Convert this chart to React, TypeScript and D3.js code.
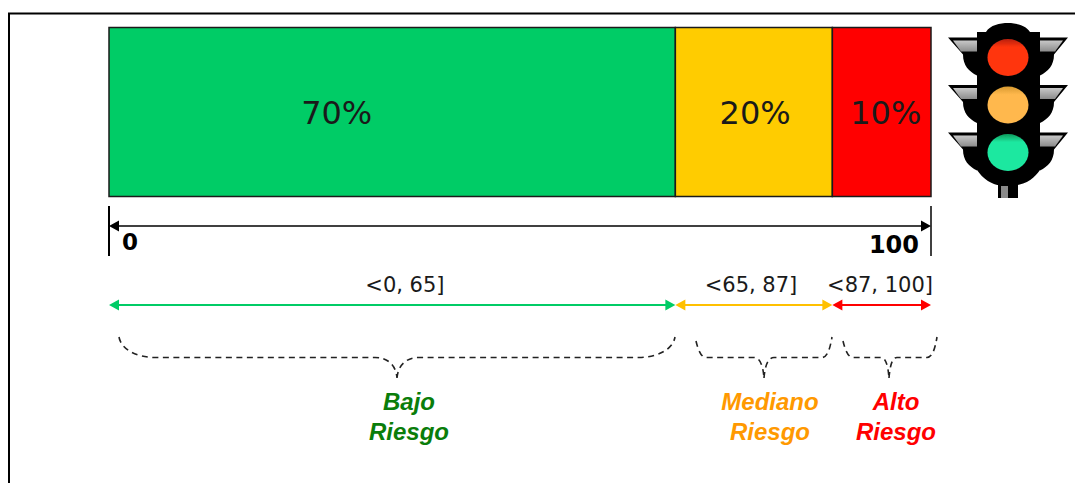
import * as d3 from "d3";

// Chart values
const segmentEdges = [0, 68.9, 88, 100];
const shareLabels = ["70%", "20%", "10%"];
const shareCenters = [27.7, 78.6, 94.5];
const segmentColors = ["#00cc66", "#ffcc00", "#ff0000"];
const rangeLabels = ["<0, 65]", "<65, 87]", "<87, 100]"];
const rangeCenters = [36, 78.1, 93.8];
const riskLines = [["Bajo", "Riesgo"], ["Mediano", "Riesgo"], ["Alto", "Riesgo"]];
const riskColors = ["#0a7d0a", "#ff9900", "#ff0000"];
const arrowColors = ["#00cc66", "#ffc000", "#ff0000"];
const axisEnds = [0, 100];

const width = 1075;
const height = 483;
const x = d3.scaleLinear().domain([0, 100]).range([109, 931]);

const sans = "Verdana, 'DejaVu Sans', sans-serif";
const helv = "'Liberation Sans', Arial, sans-serif";

function shaft(x0: number, x1: number, y: number, head: number) {
  return `M${x0 + head - 1},${y}L${x1 - head + 1},${y}`;
}

function heads(x0: number, x1: number, y: number, head: number, half: number) {
  return (
    `M${x0},${y}L${x0 + head},${y - half}L${x0 + head},${y + half}Z` +
    `M${x1},${y}L${x1 - head},${y - half}L${x1 - head},${y + half}Z`
  );
}

// curly brace opening upwards, tip pointing down
function brace(x0: number, x1: number, mid: number, r: number, b: number, yTopL: number, yTopR: number) {
  const yb = 357.5;
  const tip = 378;
  return (
    `M${x0},${yTopL}C${x0 + 2},${yb - 8} ${x0 + r * 0.5},${yb} ${x0 + r},${yb}` +
    `L${mid - b},${yb}C${mid - b * 0.4},${yb} ${mid - 1},${yb + 8} ${mid},${tip}` +
    `M${mid},${tip}C${mid + 1},${yb + 8} ${mid + b * 0.4},${yb} ${mid + b},${yb}` +
    `L${x1 - r},${yb}C${x1 - r * 0.5},${yb} ${x1 - 2},${yb - 8} ${x1},${yTopR}`
  );
}

const braces = [
  { x0: 119, x1: 675, mid: 397, r: 36, b: 22, l: 337, rr: 337 },
  { x0: 696, x1: 832, mid: 764, r: 10, b: 10, l: 341, rr: 337 },
  { x0: 843, x1: 937, mid: 889, r: 10, b: 8, l: 341, rr: 337 },
];
const riskCenters = [409, 770, 896];

function TrafficLight() {
  const lights = [
    { id: "lr", cy: 57.5, fill: "#ff3510", rim: "#b8200a" },
    { id: "ly", cy: 105, fill: "#ffb84d", rim: "#d89a30" },
    { id: "lg", cy: 152.5, fill: "#1fe8a0", rim: "#0c9a5c" },
  ];
  return (
    <g filter="url(#soft)">
      <defs>
        <filter id="soft" x="-5%" y="-5%" width="110%" height="110%">
          <feGaussianBlur stdDeviation={0.5} />
        </filter>
        <linearGradient id="band" x1="0" x2="0" y1="0" y2="1">
          <stop offset="0" stopColor="#c8c8c8" />
          <stop offset="1" stopColor="#8c8c8c" />
        </linearGradient>
        {lights.map((l) => (
          <linearGradient key={l.id} id={l.id} x1="0" x2="0" y1="0" y2="1">
            <stop offset="0" stopColor={l.rim} />
            <stop offset="0.22" stopColor={l.fill} />
            <stop offset="1" stopColor={l.fill} />
          </linearGradient>
        ))}
      </defs>
      {lights.map((l) => (
        <g key={l.id}>
          <path
            d={`M948,${l.cy - 20}L977,${l.cy - 20}L977,${l.cy + 18}C969,${l.cy + 14} 963,${l.cy + 8} 963,${l.cy - 3}L948,${l.cy - 20}Z`}
            fill="#050505"
          />
          <path
            d={`M1068,${l.cy - 20}L1040,${l.cy - 20}L1040,${l.cy + 18}C1048,${l.cy + 14} 1054,${l.cy + 8} 1054,${l.cy - 3}L1068,${l.cy - 20}Z`}
            fill="#050505"
          />
          <path d={`M953,${l.cy - 17}L977,${l.cy - 17}L977,${l.cy - 6}L961,${l.cy - 6}Z`} fill="url(#band)" />
          <path d={`M1063,${l.cy - 17}L1040,${l.cy - 17}L1040,${l.cy - 6}L1055,${l.cy - 6}Z`} fill="url(#band)" />
        </g>
      ))}
      <rect x={998} y={180} width={20} height={18} fill="#050505" />
      <rect x={1001} y={186} width={7} height={12} fill="#8a8a8a" />
      <path
        d="M977,32L986,32C990,25 1000,23 1008,23C1016,23 1026,25 1030,32L1040,32L1040,170C1034,178 1026,186 1008,186C990,186 983,178 977,170Z"
        fill="#050505"
      />
      {lights.map((l) => (
        <ellipse key={l.id} cx={1008} cy={l.cy} rx={20.5} ry={18.5} fill={`url(#${l.id})`} />
      ))}
    </g>
  );
}

export default function App() {
  const segments = shareLabels.map((label, i) => ({
    label,
    x0: x(segmentEdges[i]),
    x1: x(segmentEdges[i + 1]),
    color: segmentColors[i],
  }));

  return (
    <svg
      width={width}
      height={height}
      viewBox={`0 0 ${width} ${height}`}
      style={{ position: "absolute", left: 0, top: 0, background: "#fff", display: "block" }}
    >
      {/* page frame */}
      <path d={`M9,483L9,13.5L${width},13.5`} fill="none" stroke="#000" strokeWidth={2} />

      {/* stacked bar */}
      {segments.map((s, i) => (
        <g key={s.label}>
          <rect x={s.x0} y={27.5} width={s.x1 - s.x0} height={169} fill={s.color} stroke="#1a1a1a" strokeWidth={1.5} />
          <text
            x={x(shareCenters[i])}
            y={124}
            textAnchor="middle"
            fontFamily={sans}
            fontSize={32}
            fill="#1a1a1a"
          >
            {s.label}
          </text>
        </g>
      ))}

      <TrafficLight />

      {/* 0-100 axis */}
      {axisEnds.map((v) => (
        <line key={v} x1={x(v)} x2={x(v)} y1={206} y2={256} stroke="#000" strokeWidth={v === 0 ? 2 : 1.5} />
      ))}
      <path d={shaft(x(0), x(100), 226, 10)} fill="none" stroke="#000" strokeWidth={1.6} />
      <path d={heads(x(0), x(100), 226, 10, 5.5)} fill="#000" />
      <text x={x(0) + 13} y={250} fontFamily={sans} fontWeight="bold" fontSize={23} fill="#000">
        {axisEnds[0]}
      </text>
      <text x={x(100) - 12} y={253} textAnchor="end" fontFamily={sans} fontWeight="bold" fontSize={24} fill="#000">
        {axisEnds[1]}
      </text>

      {/* interval arrows */}
      {segments.map((s, i) => (
        <g key={rangeLabels[i]}>
          <path d={shaft(s.x0, s.x1, 305, 10)} fill="none" stroke={arrowColors[i]} strokeWidth={2.2} />
          <path d={heads(s.x0, s.x1, 305, 10, 5.5)} fill={arrowColors[i]} />
          <text
            x={x(rangeCenters[i])}
            y={292}
            textAnchor="middle"
            fontFamily={sans}
            fontSize={21}
            fill="#1a1a1a"
          >
            {rangeLabels[i]}
          </text>
        </g>
      ))}

      {/* braces and risk names */}
      {braces.map((b, i) => (
        <g key={i}>
          <path
            d={brace(b.x0, b.x1, b.mid, b.r, b.b, b.l, b.rr)}
            fill="none"
            stroke="#222"
            strokeWidth={1.6}
            strokeDasharray="6 4.5"
          />
          {riskLines[i].map((line, j) => (
            <text
              key={line}
              x={riskCenters[i]}
              y={410 + j * 29.5}
              textAnchor="middle"
              fontFamily={helv}
              fontWeight="bold"
              fontStyle="italic"
              fontSize={24}
              fill={riskColors[i]}
            >
              {line}
            </text>
          ))}
        </g>
      ))}
    </svg>
  );
}
